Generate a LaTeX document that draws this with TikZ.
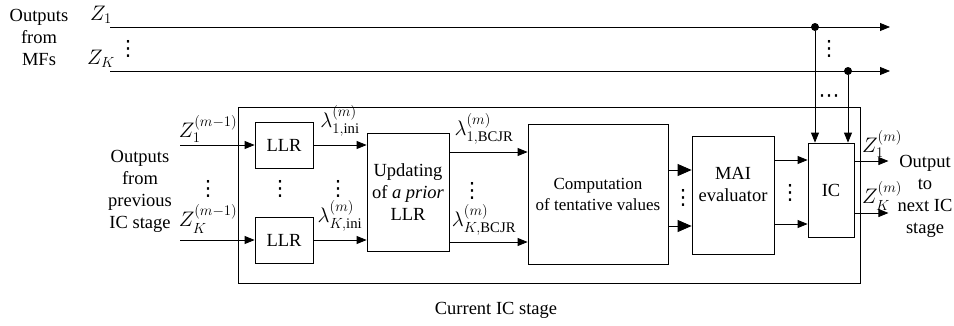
\RequirePackage{fix-cm}
\documentclass[tikz,border=0pt]{standalone}
\usepackage{amsmath}
\usepackage{fontspec}
\setmainfont{Liberation Serif}
\newfontfamily\symfont{DejaVu Sans}
\usetikzlibrary{arrows.meta, positioning}

\begin{document}
\begin{tikzpicture}[x=1pt, y=1pt, >={Triangle[length=10pt, width=8pt]}, line width=0.8pt, font=\fontsize{18.5}{22}\selectfont]
    \tikzstyle{block} = [draw, rectangle, inner sep=0pt, align=center]
    \tikzstyle{junct} = [circle, fill, inner sep=0pt, minimum size=8pt]
    \tikzstyle{big} = [-{Triangle[length=14pt, width=12pt]}]
    \tikzstyle{mlbl} = [font=\fontsize{21}{24}\selectfont, inner sep=1pt]
    \tikzstyle{dots} = [font=\symfont\fontsize{21}{24}\selectfont, inner sep=0pt]
    \useasboundingbox (0,0) rectangle (954,-325);

    % Current IC stage frame
    \node[block, minimum width=622, minimum height=176] (stage) at (549,-195) {};
    \node (stagelbl) at (496,-310) {Current IC stage};

    % Blocks
    \node[block, minimum width=58, minimum height=46] (llr1) at (284,-145) {LLR};
    \node[block, minimum width=58, minimum height=46] (llrK) at (284,-240) {LLR};
    \node[block, minimum width=82, minimum height=118] (upd) at (408,-192) {Updating\\of \textit{a prior}\\LLR};
    \node[block, minimum width=140, minimum height=140, font=\fontsize{17}{21}\selectfont] (comp) at (598,-194) {Computation\\of tentative values};
    \node[block, minimum width=82, minimum height=118, text depth=22pt] (mai) at (733,-195) {MAI\\evaluator};
    \node[block, minimum width=46, minimum height=94] (ic) at (831,-190) {IC};

    % Outputs from MFs
    \node[align=center] (mf) at (39,-37) {Outputs\\from\\MFs};
    \node[mlbl] (zone) at (101,-15) {$Z_1$};
    \node[mlbl] (zk) at (101,-59) {$Z_K$};
    \node[dots] (mfdots) at (128,-49) {⋮};
    \coordinate (z1s) at (110,-27);
    \coordinate (z1e) at (890,-27);
    \coordinate (zks) at (110,-71);
    \coordinate (zke) at (890,-71);
    \node[junct] (j1) at (815,-27) {};
    \node[junct] (jK) at (848,-71) {};
    \draw[->] (z1s) -- (z1e);
    \draw[->] (zks) -- (zke);
    \draw[->] (j1) -- (j1 |- ic.north);
    \draw[->] (jK) -- (jK |- ic.north);
    \node[dots] (jdots) at (829,-49) {⋮};
    \node[dots] (hdots) at (829,-99) {⋯};

    % Outputs from previous IC stage
    \node[align=center] (prev) at (140,-191) {Outputs\\from\\previous\\IC stage};
    \coordinate (in1) at (180,-145);
    \coordinate (inK) at (180,-240);
    \draw[->] (in1) -- (llr1);
    \draw[->] (inK) -- (llrK);
    \node[mlbl] (zin1) at (208,-129) {$Z_1^{(m-1)}$};
    \node[mlbl] (zinK) at (208,-219) {$Z_K^{(m-1)}$};
    \node[dots] (indots) at (208,-189) {⋮};
    \node[dots] (llrdots) at (280,-189) {⋮};

    % LLR to updating
    \draw[->] (llr1) -- (llr1 -| upd.west);
    \draw[->] (llrK) -- (llrK -| upd.west);
    \node[mlbl] (lini1) at (340,-121) {$\lambda_{1,\mathrm{ini}}^{(m)}$};
    \node[mlbl] (liniK) at (340,-216) {$\lambda_{K,\mathrm{ini}}^{(m)}$};
    \node[dots] (inidots) at (338,-189) {⋮};

    % Updating to computation
    \draw[->] ([yshift=40pt]upd.east) -- ([yshift=40pt]upd.east -| comp.west);
    \draw[->] ([yshift=-50pt]upd.east) -- ([yshift=-50pt]upd.east -| comp.west);
    \node[mlbl] (lb1) at (484,-129) {$\lambda_{1,\mathrm{BCJR}}^{(m)}$};
    \node[mlbl] (lbK) at (484,-220) {$\lambda_{K,\mathrm{BCJR}}^{(m)}$};
    \node[dots] (bdots) at (472,-191) {⋮};

    % Computation to MAI evaluator
    \draw[big] ([yshift=24pt]comp.east) -- ([yshift=24pt]comp.east -| mai.west);
    \draw[big] ([yshift=-32pt]comp.east) -- ([yshift=-32pt]comp.east -| mai.west);
    \node[dots] (cdots) at (683,-198) {⋮};

    % MAI evaluator to IC
    \draw[->] ([yshift=35pt]mai.east) -- ([yshift=35pt]mai.east -| ic.west);
    \draw[->] ([yshift=-29pt]mai.east) -- ([yshift=-29pt]mai.east -| ic.west);
    \node[dots] (mdots) at (790,-193) {⋮};

    % Output to next IC stage
    \draw[->] ([yshift=29pt]ic.east) -- ++(34,0);
    \draw[->] ([yshift=-23pt]ic.east) -- ++(34,0);
    \node[mlbl] (zout1) at (882,-144) {$Z_1^{(m)}$};
    \node[mlbl] (zoutK) at (882,-196) {$Z_K^{(m)}$};
    \node[align=center] (next) at (925,-196) {Output\\to\\next IC\\stage};
\end{tikzpicture}
\end{document}
